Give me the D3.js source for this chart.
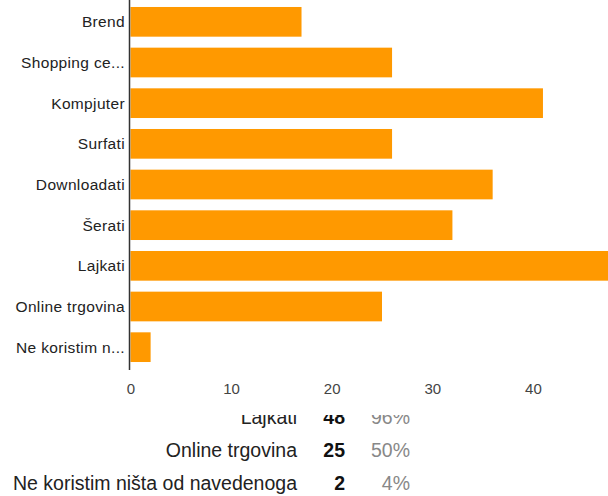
<!DOCTYPE html>
<html><head><meta charset="utf-8">
<script src="https://cdn.jsdelivr.net/npm/d3@7"></script>
<style>body{margin:0;background:#fff;}svg{display:block;font-family:"Liberation Sans",Arial,sans-serif;}</style>
</head><body>
<svg id="c" width="608" height="496"></svg>
<script>
const categories = ["Brend","Shopping ce...","Kompjuter","Surfati","Downloadati","Šerati","Lajkati","Online trgovina","Ne koristim n..."];
const values = [17,26,41,26,36,32,48,25,2];
const ticks = [0,10,20,30,40];
const tableLabels = ["Lajkati","Online trgovina","Ne koristim ništa od navedenoga"];
const tableCounts = [48,25,2];
const tablePercents = ["96%","50%","4%"];

const svg = d3.select("#c");
const x = d3.scaleLinear().domain([0,10]).range([130.5,231.1]);
const y = d3.scaleBand().domain(categories).range([1.5,367.5]).paddingInner(0.27).paddingOuter(0.135);

// table (partially hidden)
const rowY = d3.scalePoint().domain(tableLabels).range([423.5,489.5]);
const tg = svg.append("g").attr("font-size",19.5);
tg.selectAll("text.l").data(tableLabels).join("text").attr("class","l")
  .attr("x",297).attr("y",d=>rowY(d)).attr("text-anchor","end").attr("fill","#222").text(d=>d);
tg.selectAll("text.n").data(tableCounts).join("text").attr("class","n")
  .attr("x",345).attr("y",(d,i)=>rowY(tableLabels[i])).attr("text-anchor","end").attr("font-weight","bold").attr("fill","#111").text(d=>d);
tg.selectAll("text.p").data(tablePercents).join("text").attr("class","p")
  .attr("x",410).attr("y",(d,i)=>rowY(tableLabels[i])).attr("text-anchor","end").attr("fill","#888").text(d=>d);
svg.append("rect").attr("x",0).attr("y",0).attr("width",608).attr("height",415).attr("fill","#fff");

svg.selectAll("rect.bar").data(values).join("rect").attr("class","bar")
  .attr("x",x(0)).attr("y",(d,i)=>y(categories[i]))
  .attr("width",d=>x(d)-x(0)).attr("height",y.bandwidth())
  .attr("fill","#ff9900");

const ya = svg.append("g").attr("transform",`translate(${x(0)},0)`)
  .call(d3.axisLeft(y).tickSize(0).tickPadding(5.5));
ya.select(".domain").remove();
ya.selectAll("text").attr("font-size",15.5).attr("letter-spacing","0.35px").attr("fill","#222").attr("font-family","Liberation Sans, Arial, sans-serif").attr("dy","0.35em");
svg.append("line").attr("x1",x(0)-1).attr("x2",x(0)-1).attr("y1",0).attr("y2",370).attr("stroke","#333").attr("stroke-width",1.5);

const xa = svg.append("g").attr("transform","translate(0,383)")
  .call(d3.axisBottom(x).tickValues(ticks).tickSize(0).tickPadding(0));
xa.select(".domain").remove();
xa.selectAll("text").attr("font-size",15).attr("fill","#444").attr("font-family","Liberation Sans, Arial, sans-serif");
</script>
</body></html>
